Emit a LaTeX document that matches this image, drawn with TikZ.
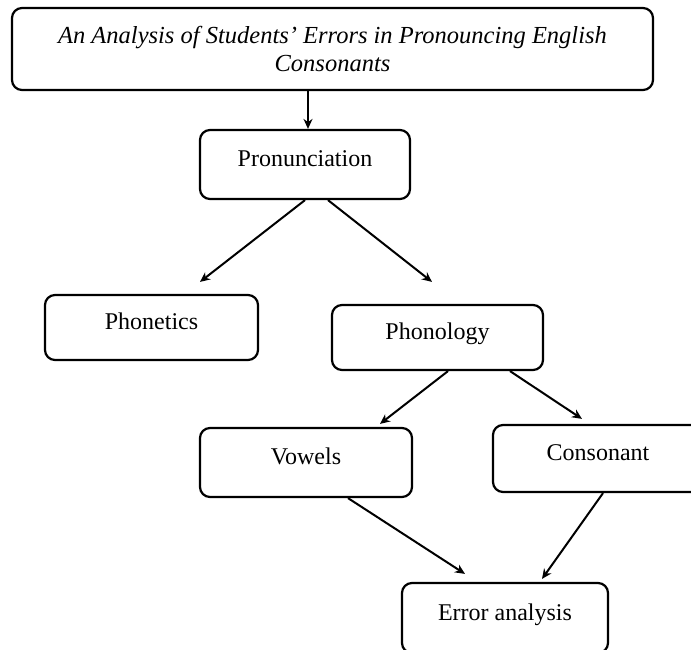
\documentclass[tikz,border=0pt]{standalone}
\usepackage{fontspec}
\setmainfont{Liberation Serif}
\usetikzlibrary{arrows.meta}
\begin{document}
\begin{tikzpicture}[x=1pt,y=-1pt,
  box/.style={draw, line width=2.2pt, rounded corners=10pt, fill=white,
    font=\fontsize{24}{27}\selectfont, text height=16pt, text depth=12pt, inner sep=0pt},
  conn/.style={line width=2pt, -{Stealth[length=10pt,width=9pt]}}]
\useasboundingbox (0,0) rectangle (691,649);
\fill[white] (0,0) rectangle (691,649);
\node[box, minimum width=641pt, minimum height=82pt, align=center, text height=, text depth=,
  font=\fontsize{24.5}{28}\selectfont\itshape] (title) at (332.5,49)
  {An Analysis of Students' Errors in Pronouncing English\\Consonants};
\node[box, minimum width=210pt, minimum height=69pt] (pron) at (305,164.5) {Pronunciation};
\node[box, minimum width=213pt, minimum height=65pt] (phonetics) at (151.5,327.5) {Phonetics};
\node[box, minimum width=211pt, minimum height=65pt] (phonology) at (437.5,337.5) {Phonology};
\node[box, minimum width=212pt, minimum height=69pt] (vowels) at (306,462.5) {Vowels};
\node[box, minimum width=210pt, minimum height=67pt] (consonant) at (598,458.5) {Consonant};
\node[box, minimum width=206pt, minimum height=70pt] (error) at (505,618) {Error analysis};
\draw[conn] ([xshift=-24.5pt]title.south) -- ([xshift=3pt]pron.north);
\draw[conn] (pron.south) -- ([xshift=48.5pt,yshift=12pt]phonetics.north);
\draw[conn] ([xshift=23pt]pron.south) -- ([xshift=-5.5pt,yshift=22pt]phonology.north);
\draw[conn] ([xshift=10.5pt]phonology.south) -- ([xshift=74pt,yshift=3pt]vowels.north);
\draw[conn] ([xshift=72.5pt]phonology.south) -- ([xshift=-16pt,yshift=5pt]consonant.north);
\draw[conn] ([xshift=42pt]vowels.south) -- ([xshift=-40pt,yshift=8pt]error.north);
\draw[conn] ([xshift=5pt]consonant.south) -- ([xshift=37pt,yshift=3pt]error.north);
\end{tikzpicture}
\end{document}
